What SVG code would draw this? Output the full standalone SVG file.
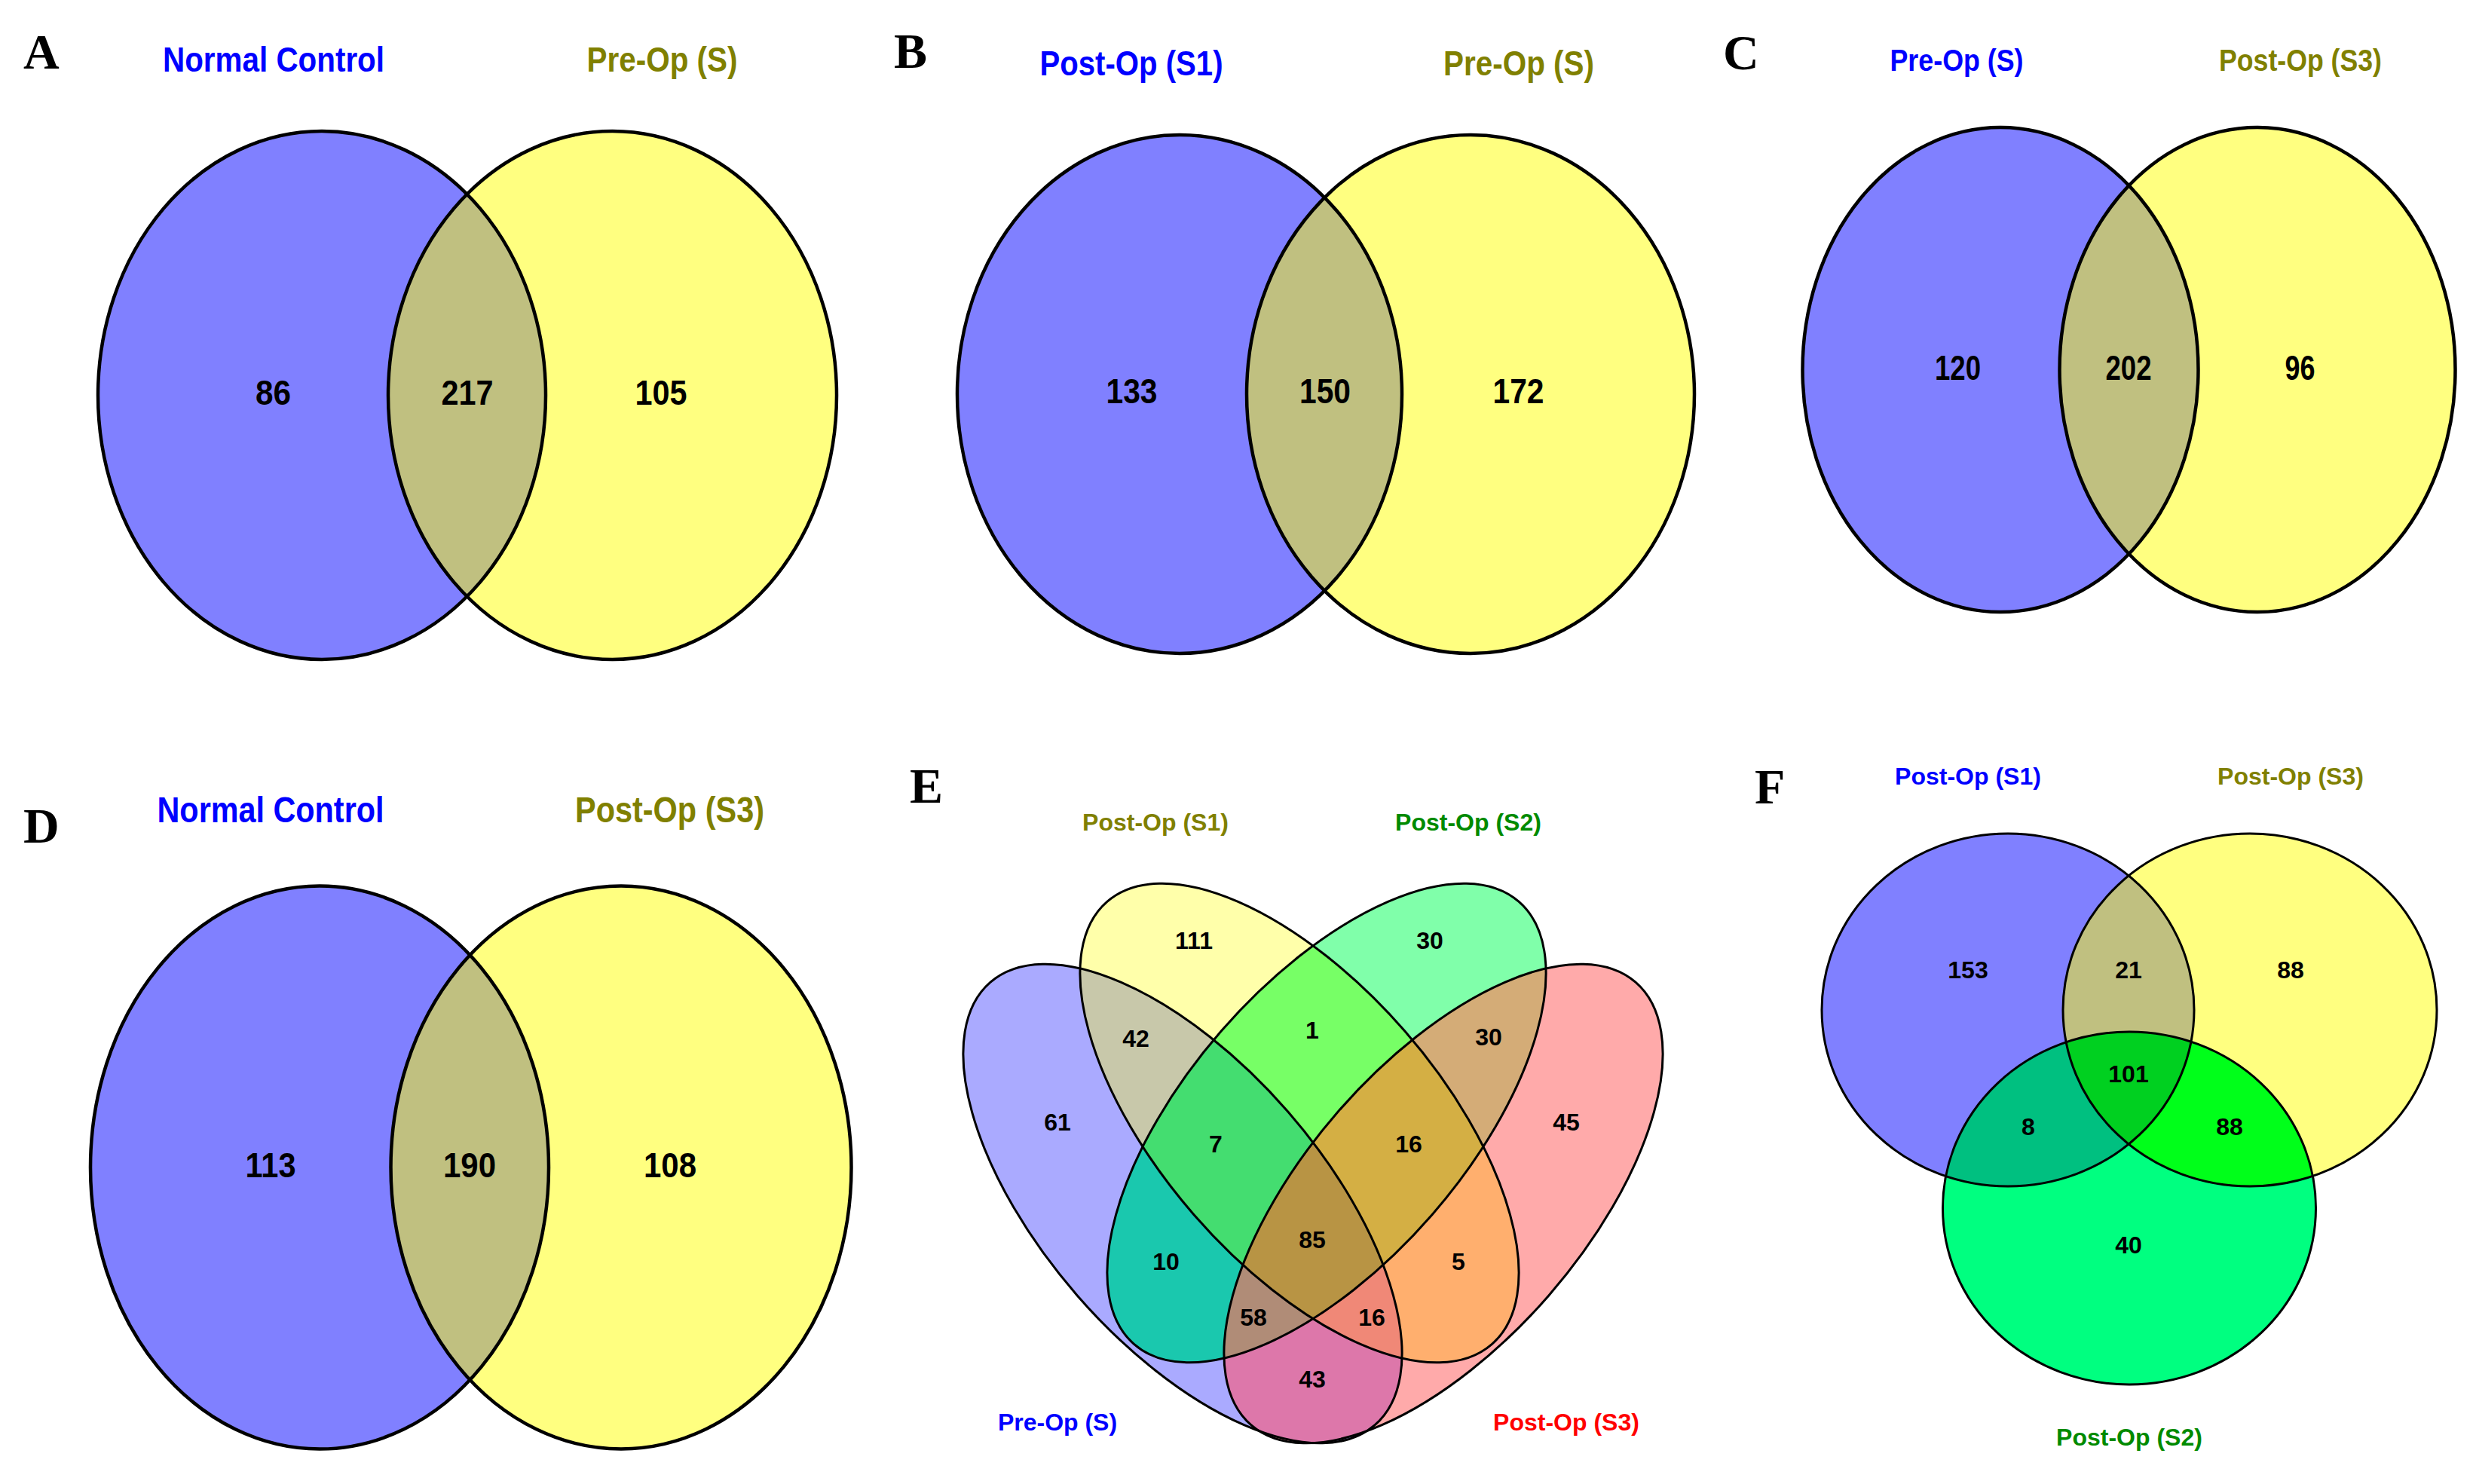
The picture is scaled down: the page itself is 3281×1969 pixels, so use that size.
<svg xmlns="http://www.w3.org/2000/svg" xmlns:xlink="http://www.w3.org/1999/xlink" width="3281" height="1969" viewBox="0 0 3281 1969">
<style>
.t{font-family:"Liberation Sans",Arial,sans-serif;font-weight:bold;text-anchor:middle}
.big{font-size:46px}
.sm{font-size:32px}
.n{fill:#000}
.letter{font-family:"Liberation Serif","Times New Roman",serif;font-weight:bold;font-size:66px;fill:#000}
.ol{fill:none;stroke:#000;stroke-width:4.5}
.ol3{fill:none;stroke:#000;stroke-width:3}
.blue{fill:#0000ff}
.olive{fill:#808000}
.green{fill:#008a00}
.red{fill:#ff0000}
</style>
<defs>
<ellipse id="aB" cx="427" cy="524.5" rx="297" ry="350.5"/>
<ellipse id="aY" cx="812.5" cy="524.5" rx="297.5" ry="350.5"/>
<ellipse id="bB" cx="1565" cy="523" rx="295" ry="344"/>
<ellipse id="bY" cx="1951" cy="523" rx="297" ry="344"/>
<ellipse id="cB" cx="2654" cy="490.6" rx="262.5" ry="321.5"/>
<ellipse id="cY" cx="2995" cy="490.6" rx="262.5" ry="321.5"/>
<ellipse id="dB" cx="424" cy="1549" rx="304" ry="373.5"/>
<ellipse id="dY" cx="824" cy="1549" rx="305.5" ry="373.5"/>
<ellipse id="eA" cx="0" cy="0" rx="389" ry="185.5" transform="translate(1569 1597) rotate(49)"/>
<ellipse id="eB" cx="0" cy="0" rx="389" ry="185.5" transform="translate(1724 1490) rotate(49)"/>
<ellipse id="eC" cx="0" cy="0" rx="389" ry="185.5" transform="translate(1760 1490) rotate(-49)"/>
<ellipse id="eD" cx="0" cy="0" rx="389" ry="185.5" transform="translate(1915 1597) rotate(-49)"/>
<ellipse id="fB" cx="2664" cy="1340" rx="247" ry="234"/>
<ellipse id="fY" cx="2985" cy="1340" rx="248" ry="234"/>
<ellipse id="fG" cx="2825" cy="1603" rx="247.5" ry="234"/>
<clipPath id="kaB"><use href="#aB"/></clipPath>
<clipPath id="kbB"><use href="#bB"/></clipPath>
<clipPath id="kcB"><use href="#cB"/></clipPath>
<clipPath id="kdB"><use href="#dB"/></clipPath>
<clipPath id="keA"><use href="#eA"/></clipPath>
<clipPath id="keB"><use href="#eB"/></clipPath>
<clipPath id="keC"><use href="#eC"/></clipPath>
<clipPath id="kfB"><use href="#fB"/></clipPath>
<clipPath id="kfY"><use href="#fY"/></clipPath>
</defs>
<rect width="3281" height="1969" fill="#ffffff"/>

<g id="panelA">
<text class="letter" x="31" y="91">A</text>
<use href="#aB" fill="#8080ff"/>
<use href="#aY" fill="#ffff80"/>
<g clip-path="url(#kaB)"><use href="#aY" fill="#c0c080"/></g>
<use href="#aB" class="ol"/>
<use href="#aY" class="ol"/>
<text class="t big blue" x="363" y="95" textLength="294" lengthAdjust="spacingAndGlyphs">Normal Control</text>
<text class="t big olive" x="878.5" y="95" textLength="200" lengthAdjust="spacingAndGlyphs">Pre-Op (S)</text>
<text class="t big n" x="362.5" y="537" textLength="47" lengthAdjust="spacingAndGlyphs">86</text>
<text class="t big n" x="620" y="537" textLength="69" lengthAdjust="spacingAndGlyphs">217</text>
<text class="t big n" x="877" y="537" textLength="69" lengthAdjust="spacingAndGlyphs">105</text>
</g>

<g id="panelB">
<text class="letter" x="1186" y="90">B</text>
<use href="#bB" fill="#8080ff"/>
<use href="#bY" fill="#ffff80"/>
<g clip-path="url(#kbB)"><use href="#bY" fill="#c0c080"/></g>
<use href="#bB" class="ol"/>
<use href="#bY" class="ol"/>
<text class="t big blue" x="1501" y="100" textLength="243" lengthAdjust="spacingAndGlyphs">Post-Op (S1)</text>
<text class="t big olive" x="2015" y="100" textLength="200" lengthAdjust="spacingAndGlyphs">Pre-Op (S)</text>
<text class="t big n" x="1501.5" y="535" textLength="68" lengthAdjust="spacingAndGlyphs">133</text>
<text class="t big n" x="1758" y="535" textLength="68" lengthAdjust="spacingAndGlyphs">150</text>
<text class="t big n" x="2014.5" y="535" textLength="68" lengthAdjust="spacingAndGlyphs">172</text>
</g>

<g id="panelC">
<text class="letter" x="2286" y="92">C</text>
<use href="#cB" fill="#8080ff"/>
<use href="#cY" fill="#ffff80"/>
<g clip-path="url(#kcB)"><use href="#cY" fill="#c0c080"/></g>
<use href="#cB" class="ol"/>
<use href="#cY" class="ol"/>
<text class="t blue" style="font-size:41px" x="2596" y="94" textLength="177" lengthAdjust="spacingAndGlyphs">Pre-Op (S)</text>
<text class="t olive" style="font-size:41px" x="3052" y="94" textLength="216" lengthAdjust="spacingAndGlyphs">Post-Op (S3)</text>
<text class="t big n" x="2597.5" y="504" textLength="61" lengthAdjust="spacingAndGlyphs">120</text>
<text class="t big n" x="2824" y="504" textLength="61" lengthAdjust="spacingAndGlyphs">202</text>
<text class="t big n" x="3051.5" y="504" textLength="40" lengthAdjust="spacingAndGlyphs">96</text>
</g>

<g id="panelD">
<text class="letter" x="31" y="1118">D</text>
<use href="#dB" fill="#8080ff"/>
<use href="#dY" fill="#ffff80"/>
<g clip-path="url(#kdB)"><use href="#dY" fill="#c0c080"/></g>
<use href="#dB" class="ol"/>
<use href="#dY" class="ol"/>
<text class="t blue" style="font-size:48px" x="359" y="1091" textLength="301" lengthAdjust="spacingAndGlyphs">Normal Control</text>
<text class="t olive" style="font-size:48px" x="888.5" y="1091" textLength="251" lengthAdjust="spacingAndGlyphs">Post-Op (S3)</text>
<text class="t big n" x="359" y="1562" textLength="67" lengthAdjust="spacingAndGlyphs">113</text>
<text class="t big n" x="623" y="1562" textLength="70" lengthAdjust="spacingAndGlyphs">190</text>
<text class="t big n" x="889" y="1562" textLength="70" lengthAdjust="spacingAndGlyphs">108</text>
</g>

<g id="panelE">
<text class="letter" x="1207" y="1065">E</text>
<g id="E-fills">
<use href="#eA" fill="#aaaaff"/>
<use href="#eB" fill="#ffffaa"/>
<use href="#eC" fill="#80ffaa"/>
<use href="#eD" fill="#ffaaaa"/>
<g clip-path="url(#keA)"><use href="#eB" fill="#c8c8aa"/></g>
<g clip-path="url(#keA)"><use href="#eC" fill="#1ac8ae"/></g>
<g clip-path="url(#keA)"><use href="#eD" fill="#dd77aa"/></g>
<g clip-path="url(#keB)"><use href="#eC" fill="#77ff66"/></g>
<g clip-path="url(#keB)"><use href="#eD" fill="#ffaf6e"/></g>
<g clip-path="url(#keC)"><use href="#eD" fill="#d4ac77"/></g>
<g clip-path="url(#keA)"><g clip-path="url(#keB)"><use href="#eC" fill="#44dd70"/></g></g>
<g clip-path="url(#keA)"><g clip-path="url(#keB)"><use href="#eD" fill="#f08877"/></g></g>
<g clip-path="url(#keA)"><g clip-path="url(#keC)"><use href="#eD" fill="#b08c77"/></g></g>
<g clip-path="url(#keB)"><g clip-path="url(#keC)"><use href="#eD" fill="#d4af44"/></g></g>
<g clip-path="url(#keA)"><g clip-path="url(#keB)"><g clip-path="url(#keC)"><use href="#eD" fill="#b89444"/></g></g></g>
</g>
<use href="#eA" class="ol3"/>
<use href="#eB" class="ol3"/>
<use href="#eC" class="ol3"/>
<use href="#eD" class="ol3"/>
<text class="t sm olive" x="1533" y="1102">Post-Op (S1)</text>
<text class="t sm green" x="1948" y="1102">Post-Op (S2)</text>
<text class="t sm blue" x="1403" y="1898">Pre-Op (S)</text>
<text class="t sm red" x="2078" y="1898">Post-Op (S3)</text>
<text class="t sm n" x="1584" y="1258.5">111</text>
<text class="t sm n" x="1897" y="1258.5">30</text>
<text class="t sm n" x="1507" y="1388.5">42</text>
<text class="t sm n" x="1741" y="1377.5">1</text>
<text class="t sm n" x="1975" y="1386.5">30</text>
<text class="t sm n" x="1403" y="1499.5">61</text>
<text class="t sm n" x="2078" y="1499.5">45</text>
<text class="t sm n" x="1613" y="1528.5">7</text>
<text class="t sm n" x="1869" y="1528.5">16</text>
<text class="t sm n" x="1741" y="1655.5">85</text>
<text class="t sm n" x="1547" y="1684.5">10</text>
<text class="t sm n" x="1935" y="1684.5">5</text>
<text class="t sm n" x="1663" y="1758.5">58</text>
<text class="t sm n" x="1820" y="1758.5">16</text>
<text class="t sm n" x="1741" y="1840.5">43</text>
</g>

<g id="panelF">
<text class="letter" x="2328" y="1066">F</text>
<use href="#fB" fill="#8080ff"/>
<use href="#fY" fill="#ffff80"/>
<use href="#fG" fill="#00ff80"/>
<g clip-path="url(#kfB)"><use href="#fY" fill="#c0c080"/></g>
<g clip-path="url(#kfB)"><use href="#fG" fill="#00c080"/></g>
<g clip-path="url(#kfY)"><use href="#fG" fill="#00ff1a"/></g>
<g clip-path="url(#kfB)"><g clip-path="url(#kfY)"><use href="#fG" fill="#00d020"/></g></g>
<use href="#fB" class="ol3"/>
<use href="#fY" class="ol3"/>
<use href="#fG" class="ol3"/>
<text class="t sm blue" x="2611" y="1041">Post-Op (S1)</text>
<text class="t sm olive" x="3039" y="1041">Post-Op (S3)</text>
<text class="t sm green" x="2825" y="1918">Post-Op (S2)</text>
<text class="t sm n" x="2611" y="1297.5">153</text>
<text class="t sm n" x="2824" y="1297.5">21</text>
<text class="t sm n" x="3039" y="1297.5">88</text>
<text class="t sm n" x="2824" y="1435.5">101</text>
<text class="t sm n" x="2691" y="1505.5">8</text>
<text class="t sm n" x="2958" y="1505.5">88</text>
<text class="t sm n" x="2824" y="1662.5">40</text>
</g>
</svg>
